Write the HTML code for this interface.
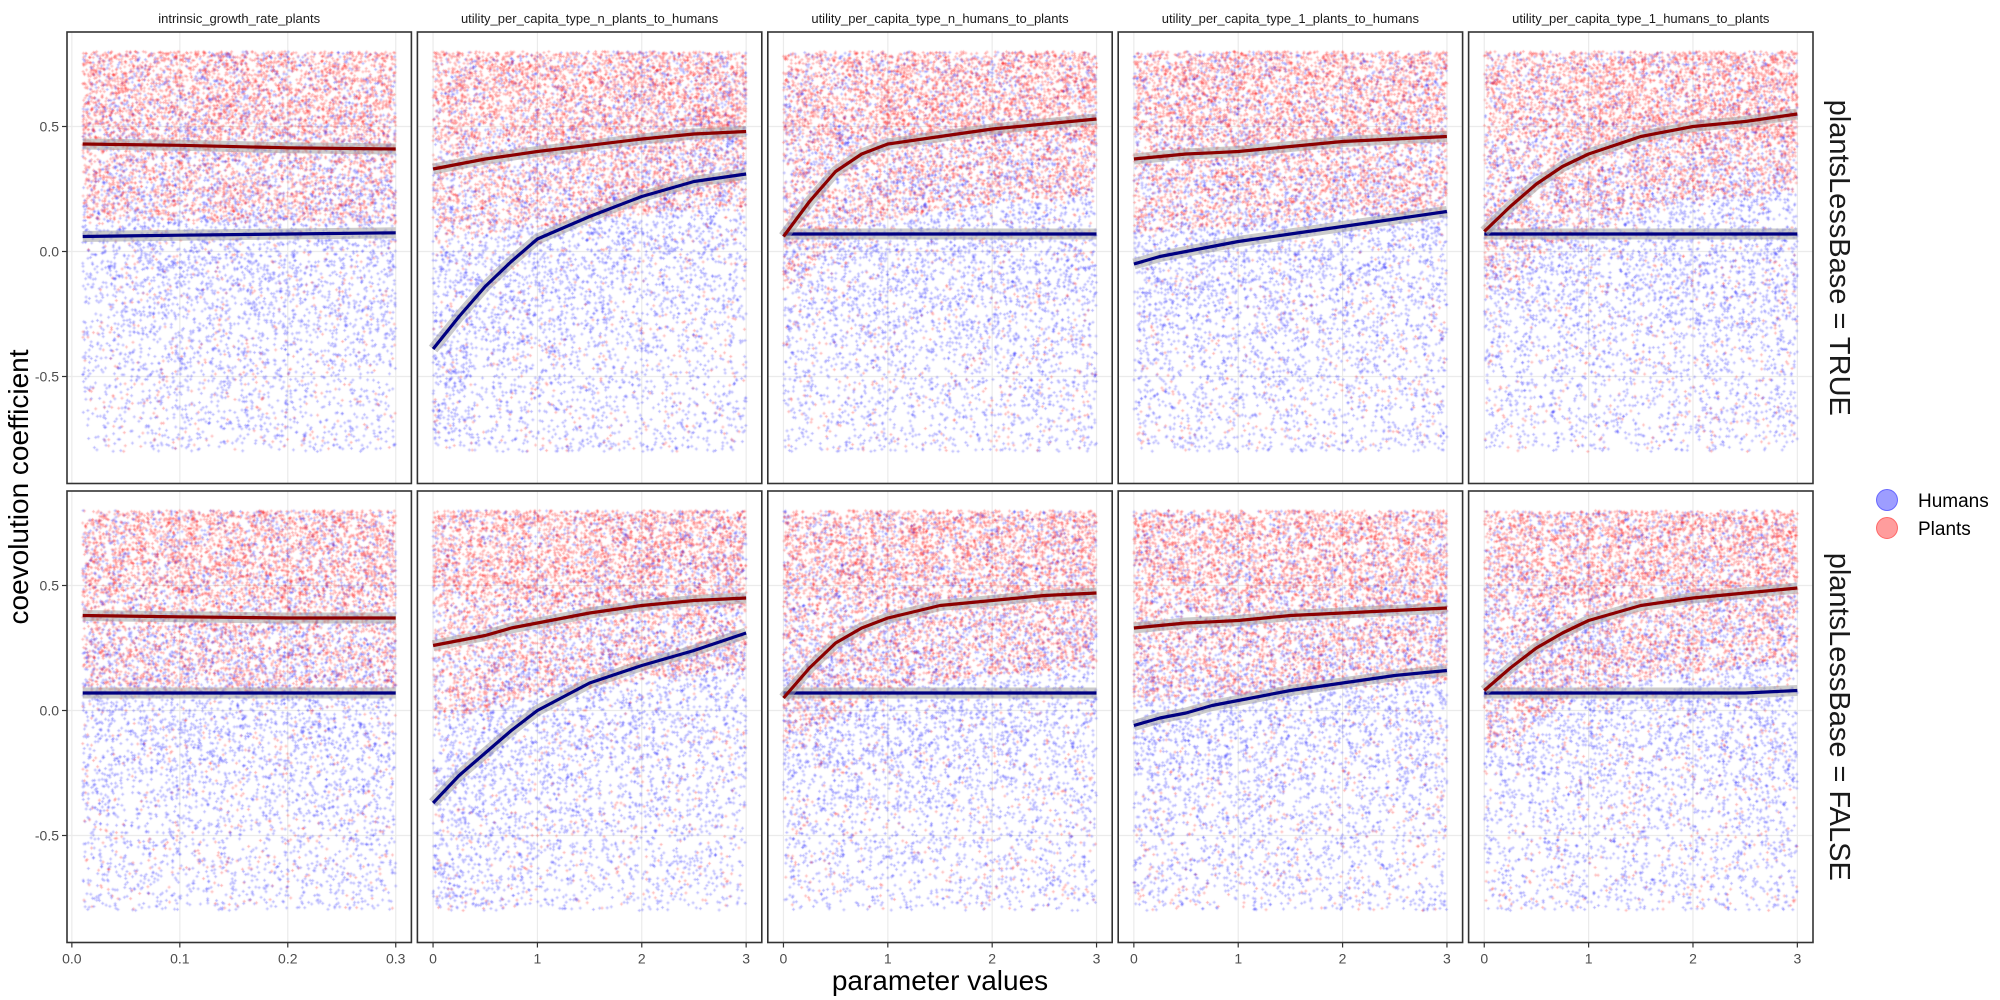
<!DOCTYPE html>
<html><head><meta charset="utf-8">
<style>
html,body{margin:0;padding:0;background:#fff;}
#wrap{position:relative;width:2000px;height:1000px;overflow:hidden;font-family:"Liberation Sans",sans-serif;}
svg,canvas{position:absolute;left:0;top:0;}
</style></head>
<body>
<div id="wrap">
<svg id="bg" width="2000" height="1000"></svg>
<canvas id="cv" width="2000" height="1000"></canvas>
<svg id="fg" width="2000" height="1000"></svg>
</div>
<script>
// ---- data ----
const panelTitles = ["intrinsic_growth_rate_plants","utility_per_capita_type_n_plants_to_humans","utility_per_capita_type_n_humans_to_plants","utility_per_capita_type_1_plants_to_humans","utility_per_capita_type_1_humans_to_plants"];
const rowLabels = ["plantsLessBase = TRUE","plantsLessBase = FALSE"];
const yTicks = [-0.5, 0.0, 0.5];
const yTickLabels = ["-0.5","0.0","0.5"];
const xTicksSmall = [0.0,0.1,0.2,0.3];
const xTickLabelsSmall = ["0.0","0.1","0.2","0.3"];
const xTicksBig = [0,1,2,3];
const xTickLabelsBig = ["0","1","2","3"];
const xTrendSmall = [0.01,0.1,0.2,0.3];
const xTrendBig = [0,0.25,0.5,0.75,1,1.5,2,2.5,3];
// trend lines [row][panel]
const plantsTrend = [
 [[0.43,0.425,0.415,0.41],
  [0.33,0.35,0.37,0.385,0.40,0.425,0.45,0.47,0.48],
  [0.06,0.20,0.32,0.39,0.43,0.46,0.49,0.51,0.53],
  [0.37,0.38,0.39,0.395,0.40,0.42,0.44,0.45,0.46],
  [0.08,0.18,0.27,0.34,0.39,0.46,0.50,0.52,0.55]],
 [[0.38,0.375,0.37,0.37],
  [0.26,0.28,0.30,0.33,0.35,0.39,0.42,0.44,0.45],
  [0.05,0.17,0.27,0.33,0.37,0.42,0.44,0.46,0.47],
  [0.33,0.34,0.35,0.355,0.36,0.38,0.39,0.40,0.41],
  [0.08,0.17,0.25,0.31,0.36,0.42,0.45,0.47,0.49]]
];
const humansTrend = [
 [[0.06,0.065,0.07,0.075],
  [-0.39,-0.26,-0.14,-0.04,0.05,0.14,0.22,0.28,0.31],
  [0.07,0.07,0.07,0.07,0.07,0.07,0.07,0.07,0.07],
  [-0.05,-0.02,0.0,0.02,0.04,0.07,0.10,0.13,0.16],
  [0.07,0.07,0.07,0.07,0.07,0.07,0.07,0.07,0.07]],
 [[0.07,0.07,0.07,0.07],
  [-0.37,-0.26,-0.17,-0.08,0.0,0.11,0.18,0.24,0.31],
  [0.07,0.07,0.07,0.07,0.07,0.07,0.07,0.07,0.07],
  [-0.06,-0.03,-0.01,0.02,0.04,0.08,0.11,0.14,0.16],
  [0.07,0.07,0.07,0.07,0.07,0.07,0.07,0.07,0.08]]
];
// ---- layout ----
const NS="http://www.w3.org/2000/svg";
const PL=67, PW=344.4, GAP=6;
const rowTop=[32,491], PH=451.5;
const yMin=-0.928, yMax=0.878;
function px(p){return PL+p*(PW+GAP);}
function xDomain(p){return p===0?[-0.0045,0.3145]:[-0.15,3.15];}
function xs(p,v){const d=xDomain(p);return px(p)+(v-d[0])/(d[1]-d[0])*PW;}
function ys(r,v){return rowTop[r]+(yMax-v)/(yMax-yMin)*PH;}
function el(parent,tag,attrs,text){const e=document.createElementNS(NS,tag);for(const k in attrs)e.setAttribute(k,attrs[k]);if(text!==undefined)e.textContent=text;parent.appendChild(e);return e;}
const bg=document.getElementById('bg'), fg=document.getElementById('fg');
const ctx=document.getElementById('cv').getContext('2d');
// deterministic texture generator for the raw point cloud (mulberry32)
let seed=987654;
function rnd(){seed|=0;seed=seed+0x6D2B79F5|0;let t=Math.imul(seed^seed>>>15,1|seed);t=t+Math.imul(t^t>>>7,61|t)^t;return((t^t>>>14)>>>0)/4294967296;}
function interp(xa,ya,x){if(x<=xa[0])return ya[0];for(let i=1;i<xa.length;i++){if(x<=xa[i]){const t=(x-xa[i-1])/(xa[i]-xa[i-1]);return ya[i-1]+t*(ya[i]-ya[i-1]);}}return ya[ya.length-1];}
function dot(x,y,c){ctx.fillStyle=c;ctx.fillRect(x-1.5,y-0.5,3,1);ctx.fillRect(x-0.5,y-1.5,1,1);ctx.fillRect(x-0.5,y+0.5,1,1);}
function clampY(v){if(v>0.8)return 0.8-rnd()*0.5; if(v<-0.8)return -0.8+rnd()*0.6; return v;}
for(let r=0;r<2;r++){
 for(let p=0;p<5;p++){
  const x0=px(p), y0=rowTop[r];
  const ticks=p===0?xTicksSmall:xTicksBig;
  const xt=p===0?xTrendSmall:xTrendBig;
  const gl=el(bg,'g',{});
  
  
  ticks.forEach(t=>el(gl,'line',{x1:xs(p,t),x2:xs(p,t),y1:y0,y2:y0+PH,stroke:'#ebebeb','stroke-width':1.2}));
  yTicks.forEach(t=>el(gl,'line',{x1:x0,x2:x0+PW,y1:ys(r,t),y2:ys(r,t),stroke:'#ebebeb','stroke-width':1.2}));
  const lo=p===0?0.01:0, hi=p===0?0.3:3;
  const pt=plantsTrend[r][p], ht=humansTrend[r][p];
  for(let i=0;i<5000;i++){
   const xv=lo+rnd()*(hi-lo);
   const tr=interp(xt,ht,xv);
   let yv;
   if(rnd()<0.3){yv=tr+(rnd()+rnd()+rnd()-1.5)*0.55;}else{yv=-0.8+rnd()*1.6;}
   yv=clampY(yv);
   dot(xs(p,xv),ys(r,yv),'rgba(40,40,255,0.33)');
   const xv2=lo+rnd()*(hi-lo);
   const tp=interp(xt,pt,xv2);
   let yp;
   const u=rnd();
   const base=Math.max(tp-0.3,-0.15);
   if(u<0.68){yp=base+rnd()*(0.8-base);}
   else if(u<0.85){yp=0.45+rnd()*0.35;}
   else{yp=-0.8+rnd()*1.6;}
   dot(xs(p,xv2),ys(r,yp),'rgba(255,30,30,0.33)');
  }
  [[ht,'#000080','humans'],[pt,'#8b0000','plants']].forEach(([arr,col,nm])=>{
   let d='';xt.forEach((x,i)=>{d+=(i?'L':'M')+xs(p,x).toFixed(1)+','+ys(r,arr[i]).toFixed(1);});
   const rb=el(fg,'path',{d:d,stroke:'rgba(160,160,160,0.55)','stroke-width':11,fill:'none','stroke-linejoin':'round'});
   
   
   const ln=el(fg,'path',{d:d,stroke:col,'stroke-width':3.2,fill:'none','stroke-linejoin':'round'});
   
   
  });
  const bd=el(fg,'rect',{x:x0,y:y0,width:PW,height:PH,fill:'none',stroke:'#333','stroke-width':1.6});
  
  
  if(p===0){
   yTicks.forEach((t,i)=>{
    el(fg,'line',{x1:x0-5,x2:x0,y1:ys(r,t),y2:ys(r,t),stroke:'#333','stroke-width':1.2});
    const tl=el(fg,'text',{x:x0-8,y:ys(r,t)+5,'text-anchor':'end','font-size':14,fill:'#4d4d4d'},yTickLabels[i]);
    
    
   });
  }
  if(r===1){
   const labs=p===0?xTickLabelsSmall:xTickLabelsBig;
   ticks.forEach((t,i)=>{
    el(fg,'line',{x1:xs(p,t),x2:xs(p,t),y1:y0+PH,y2:y0+PH+5,stroke:'#333','stroke-width':1.2});
    const tl=el(fg,'text',{x:xs(p,t),y:y0+PH+21,'text-anchor':'middle','font-size':14,fill:'#4d4d4d'},labs[i]);
    
    
   });
  }
  if(r===0){
   const st=el(fg,'text',{x:x0+PW/2,y:23,'text-anchor':'middle','font-size':13,fill:'#1a1a1a'},panelTitles[p]);
   
   
  }
 }
 const rl=el(fg,'text',{x:0,y:0,'text-anchor':'middle','font-size':29,fill:'#1a1a1a',transform:'translate(1830,'+(rowTop[r]+PH/2)+') rotate(90)'},rowLabels[r]);
 
 
}
const yt=el(fg,'text',{x:0,y:0,'text-anchor':'middle','font-size':28,fill:'#000',transform:'translate(28,487) rotate(-90)'},'coevolution coefficient');


const xtl=el(fg,'text',{x:940,y:990,'text-anchor':'middle','font-size':28,fill:'#000'},'parameter values');


const legend=el(fg,'g',{});


[['Humans','rgba(60,60,255,0.5)',500],['Plants','rgba(255,60,60,0.5)',528]].forEach(([n,c,y])=>{
 const g=el(legend,'g',{});
 
 
 el(g,'circle',{cx:1887,cy:y,r:10.5,fill:c,stroke:c.replace('0.5','0.7'),'stroke-width':1});
 el(g,'text',{x:1918,y:y+7,'font-size':19,fill:'#000'},n);
});
</script>
</body></html>
